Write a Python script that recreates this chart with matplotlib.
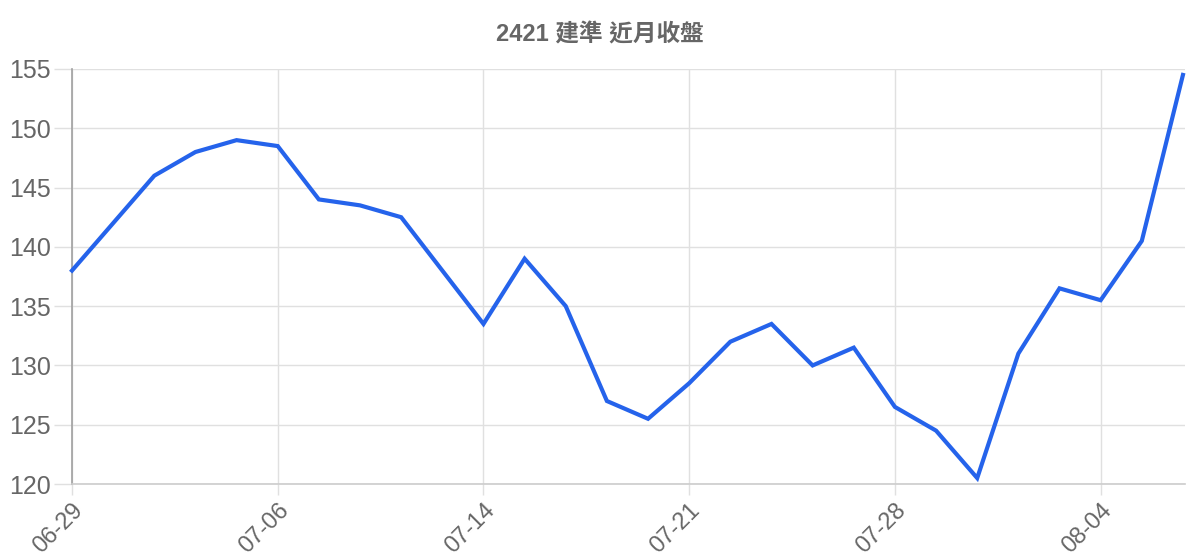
import matplotlib
matplotlib.use("Agg")
import matplotlib.pyplot as plt

title = "2421 建準 近月收盤"
dates = ["06-29", "06-30", "07-01", "07-02", "07-03", "07-06", "07-07", "07-08", "07-09", "07-10",
         "07-14", "07-15", "07-16", "07-17", "07-20", "07-21", "07-22", "07-23", "07-24", "07-27",
         "07-28", "07-29", "07-30", "07-31", "08-03", "08-04", "08-05", "08-06"]
closes = [138, 142, 146, 148, 149, 148.5, 144, 143.5, 142.5, 138,
          133.5, 139, 135, 127, 125.5, 128.5, 132, 133.5, 130, 131.5,
          126.5, 124.5, 120.5, 131, 136.5, 135.5, 140.5, 154.5]
yticks = [120, 125, 130, 135, 140, 145, 150, 155]

plt.rcParams['font.family'] = ['Liberation Sans', 'Noto Sans CJK TC', 'DejaVu Sans']

fig = plt.figure(figsize=(12, 5.6), dpi=100)
ax = fig.add_axes([72/1200, 1-484/560, (1185-72)/1200, (484-69)/560])

x = list(range(len(closes)))
ax.plot(x, closes, color="#2563eb", lw=3, solid_joinstyle="miter", zorder=3, clip_on=False)

ax.set_ylim(120, 155)
ax.set_xlim(0, len(closes) - 1 + 0.05)
ax.set_yticks(yticks)
ax.set_yticklabels([str(v) for v in yticks], fontsize=18, color="#666666")
xt = list(range(0, len(closes), 5))
ax.set_xticks(xt)
ax.set_xticklabels([dates[i] for i in xt], rotation=45, ha="right", rotation_mode="anchor",
                   fontsize=17, color="#666666")
ax.grid(True, color="#e0e0e0", lw=1, zorder=0)
ax.tick_params(axis="both", length=8, width=1, color="#e0e0e0", pad=3)
ax.tick_params(axis="y", length=13, pad=2)
ax.tick_params(axis="x", pad=3)
for s in ["top", "right"]:
    ax.spines[s].set_visible(False)
ax.spines["left"].set_color("#a0a0a0")
ax.spines["left"].set_linewidth(1.2)
ax.spines["bottom"].set_color("#cccccc")
ax.spines["bottom"].set_linewidth(1.2)

fig.text(0.5, 1-35/560, title, ha="center", va="center", fontsize=17, fontweight="bold",
         color="#666666")

fig.savefig("out.png", dpi=100, facecolor="white")
